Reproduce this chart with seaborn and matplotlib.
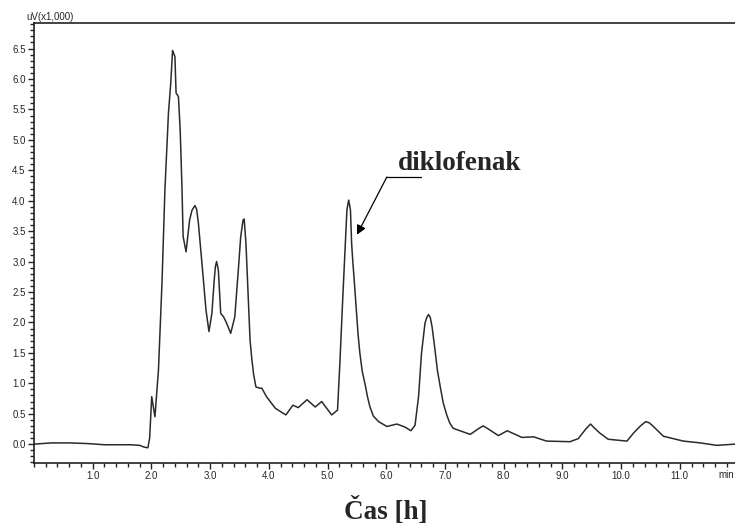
import numpy as np
import pandas as pd
import matplotlib
matplotlib.use("Agg")
import matplotlib.pyplot as plt
from matplotlib.ticker import MultipleLocator, FormatStrFormatter
import seaborn as sns

# ================================
# Chromatogram trace
# ================================
time_min = [0.00, 0.30, 0.60, 0.90, 1.20, 1.50, 1.65, 1.80, 1.88, 1.94, 1.97,
            2.005, 2.06, 2.12, 2.18, 2.23, 2.29, 2.33, 2.36, 2.40, 2.42, 2.46,
            2.49, 2.52, 2.54, 2.59, 2.65, 2.69, 2.74, 2.77, 2.80, 2.86, 2.93,
            2.98, 3.03, 3.07, 3.09, 3.11, 3.14, 3.18, 3.23, 3.28, 3.35, 3.42,
            3.48, 3.52, 3.56, 3.58, 3.61, 3.64, 3.68, 3.71, 3.74, 3.78, 3.84,
            3.88, 3.96, 4.11, 4.29, 4.41, 4.50, 4.65, 4.79, 4.90, 5.07, 5.17,
            5.21, 5.26, 5.30, 5.33, 5.36, 5.39, 5.41, 5.43, 5.45, 5.48, 5.52,
            5.55, 5.59, 5.64, 5.68, 5.72, 5.78, 5.87, 6.01, 6.18, 6.32, 6.42,
            6.49, 6.55, 6.60, 6.66, 6.69, 6.72, 6.75, 6.78, 6.83, 6.87, 6.92,
            6.97, 7.03, 7.08, 7.14, 7.43, 7.58, 7.65, 7.72, 7.91, 8.06, 8.31,
            8.51, 8.73, 9.13, 9.27, 9.40, 9.48, 9.55, 9.64, 9.78, 10.10, 10.21,
            10.33, 10.42, 10.48, 10.55, 10.72, 11.06, 11.35, 11.63, 11.94]
signal = [0.00, 0.02, 0.02, 0.01, -0.01, -0.01, -0.01, -0.02, -0.05, -0.06, 0.10,
          0.78, 0.45, 1.22, 2.65, 4.18, 5.44, 5.94, 6.47, 6.37, 5.77, 5.71,
          5.16, 4.23, 3.41, 3.16, 3.68, 3.84, 3.92, 3.86, 3.63, 2.98, 2.20,
          1.85, 2.15, 2.70, 2.92, 3.00, 2.86, 2.15, 2.09, 1.99, 1.82, 2.09,
          2.86, 3.40, 3.68, 3.70, 3.30, 2.60, 1.71, 1.40, 1.15, 0.94, 0.92,
          0.92, 0.78, 0.59, 0.48, 0.64, 0.60, 0.73, 0.61, 0.70, 0.48, 0.56,
          1.33, 2.42, 3.25, 3.85, 4.01, 3.85, 3.30, 3.00, 2.75, 2.35, 1.80,
          1.50, 1.20, 0.98, 0.78, 0.62, 0.46, 0.37, 0.29, 0.33, 0.28, 0.22,
          0.31, 0.78, 1.49, 1.99, 2.08, 2.13, 2.08, 1.93, 1.55, 1.22, 0.94,
          0.68, 0.48, 0.35, 0.26, 0.16, 0.26, 0.30, 0.26, 0.14, 0.22, 0.11,
          0.12, 0.05, 0.04, 0.09, 0.25, 0.33, 0.26, 0.18, 0.08, 0.05, 0.18,
          0.30, 0.37, 0.35, 0.29, 0.13, 0.05, 0.02, -0.02, 0.00]

x_ticks = [1.0, 2.0, 3.0, 4.0, 5.0, 6.0, 7.0, 8.0, 9.0, 10.0, 11.0]

df = pd.DataFrame({"time": time_min, "signal": signal})

# ================================
# Plot
# ================================
sns.set_style("ticks")
plt.rcParams["font.family"] = ["Liberation Sans", "DejaVu Sans"]

fig = plt.figure(figsize=(7.35, 5.24), dpi=100)
ax = fig.add_axes([34 / 735, 1 - 463 / 524, 1 - 34 / 735, (463 - 23) / 524])

sns.lineplot(data=df, x="time", y="signal", ax=ax, sort=False, estimator=None,
             color="#2b2b2b", linewidth=1.1)

ax.set_xlim(0, 11.94)
ax.set_ylim(-0.31, 6.92)
ax.set_xticks(x_ticks)
ax.xaxis.set_minor_locator(MultipleLocator(0.2))
ax.yaxis.set_major_locator(MultipleLocator(0.5))
ax.yaxis.set_minor_locator(MultipleLocator(0.1))
ax.xaxis.set_major_formatter(FormatStrFormatter("%.1f"))
ax.yaxis.set_major_formatter(FormatStrFormatter("%.1f"))
ax.tick_params(axis="both", which="major", direction="out", length=4,
               width=1, labelsize=7, pad=2, color="#222222")
ax.tick_params(axis="both", which="minor", direction="out", length=3,
               width=1, color="#222222")
ax.set_xlabel("")
ax.set_ylabel("")

for side in ["left", "bottom", "top"]:
    ax.spines[side].set_color("#222222")
    ax.spines[side].set_linewidth(1.2)
ax.spines["right"].set_visible(False)

# unit labels like the instrument software
fig.text(26 / 735, 1 - 20 / 524, "uV(x1,000)", fontsize=7, va="baseline",
         ha="left")
ax.text(11.65, -0.43, "min", fontsize=7, ha="left", va="top", clip_on=False)

# annotation of the diclofenac peak
ax.annotate("", xy=(5.50, 3.44), xytext=(6.01, 4.39),
            arrowprops=dict(arrowstyle="-|>", color="black", lw=0.9,
                            mutation_scale=14, shrinkA=0, shrinkB=0))
ax.plot([6.01, 6.59], [4.39, 4.39], color="black", lw=0.9)
ax.text(6.20, 4.51, "diklofenak", fontsize=19.5, fontweight="bold",
        family=["Liberation Serif", "DejaVu Serif"], va="baseline", ha="left")

fig.text(386 / 735, 1 - 519 / 524, "Čas [h]", fontsize=19.5, fontweight="bold",
         family=["Liberation Serif", "DejaVu Serif"], ha="center",
         va="baseline")

fig.savefig("out.png", dpi=100)
